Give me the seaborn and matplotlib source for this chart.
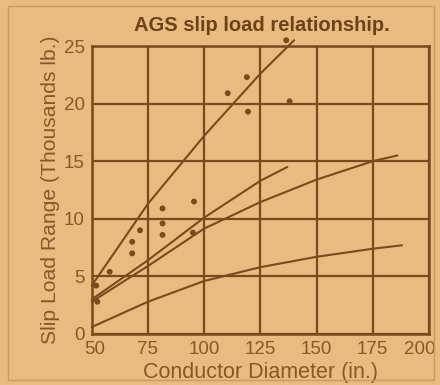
import matplotlib
matplotlib.use("Agg")
import matplotlib.pyplot as plt
import matplotlib.transforms as mtransforms
import seaborn as sns
import pandas as pd
from matplotlib.patches import Rectangle

# ---- data ----
x_steep = [50, 75, 100, 125, 140]
y_steep = [4.2, 11.3, 17.2, 22.6, 25.5]

x_mid = [50, 75, 100, 125, 137]
y_mid = [3.0, 6.4, 10.1, 13.3, 14.5]

x_long = [50, 75, 100, 125, 150, 175, 186]
y_long = [2.8, 5.9, 9.15, 11.45, 13.4, 15.0, 15.5]

x_low = [50, 75, 100, 125, 150, 175, 188]
y_low = [0.6, 2.8, 4.6, 5.8, 6.7, 7.4, 7.7]

dot_x = [52, 52.5, 58, 68, 68, 71.5, 81.5, 81.5, 81.5, 95, 95.5, 110.5, 119.5, 119, 136.5, 138]
dot_y = [4.2, 2.8, 5.4, 7.0, 8.0, 9.0, 8.6, 9.6, 10.9, 8.8, 11.5, 20.9, 19.3, 22.3, 25.5, 20.2]

x_ticks = [50, 75, 100, 125, 150, 175, 200]
y_ticks = [0, 5, 10, 15, 20, 25]

title = "AGS slip load relationship."
x_label = "Conductor Diameter (in.)"
y_label = "Slip Load Range (Thousands lb.)"

# ---- styling ----
BG = "#E9BB80"
INK = "#7A4A1C"
TXT = "#8A5828"

sns.set_style("white")
plt.rcParams["font.family"] = ["Liberation Sans", "DejaVu Sans"]

frames = []
for name, xs, ys in [("steep", x_steep, y_steep), ("mid", x_mid, y_mid),
                     ("long", x_long, y_long), ("low", x_low, y_low)]:
    frames.append(pd.DataFrame({"x": xs, "y": ys, "curve": name}))
lines_df = pd.concat(frames, ignore_index=True)
dots_df = pd.DataFrame({"x": dot_x, "y": dot_y})

fig = plt.figure(figsize=(4.4, 3.85), dpi=100, facecolor=BG)
ax = fig.add_axes([0.2084, 0.1325, 0.7666, 0.748])
ax.set_facecolor(BG)

sns.lineplot(data=lines_df, x="x", y="y", hue="curve", units="curve",
             estimator=None, sort=False,
             palette={"steep": INK, "mid": INK, "long": INK, "low": INK},
             linewidth=1.5, legend=False, ax=ax, clip_on=False)
sns.scatterplot(data=dots_df, x="x", y="y", color=INK, s=18, edgecolor="none",
                ax=ax, clip_on=False, zorder=5)

ax.set_xlim(50, 200)
ax.set_ylim(0, 25)
ax.set_xticks(x_ticks)
ax.set_yticks(y_ticks)
ax.grid(True, color=INK, linewidth=1.6)
ax.set_axisbelow(True)
for s in ax.spines.values():
    s.set_color(INK)
    s.set_linewidth(1.8)
ax.tick_params(length=0, labelsize=13.5, labelcolor=TXT, pad=5)
ax.set_xlabel(x_label, fontsize=15.5, color=TXT, labelpad=3)
ax.set_ylabel(y_label, fontsize=15.2, color=TXT, labelpad=3)

# nudge the first and last x tick labels like the reference
xlabels = ax.get_xticklabels()
xlabels[-1].set_transform(xlabels[-1].get_transform() +
                          mtransforms.ScaledTranslation(-9 / 100, 0, fig.dpi_scale_trans))
xlabels[0].set_transform(xlabels[0].get_transform() +
                         mtransforms.ScaledTranslation(3 / 100, 0, fig.dpi_scale_trans))

fig.text(0.595, 0.935, title, ha="center", va="center", fontsize=14.5,
         fontweight="bold", color="#6E4218")

fig.patches.append(Rectangle((8 / 440, 5 / 385), 426 / 440, 374 / 385,
                             transform=fig.transFigure, fill=False,
                             edgecolor="#C99A62", linewidth=1.0))

fig.savefig("out.png", dpi=100, facecolor=BG)
